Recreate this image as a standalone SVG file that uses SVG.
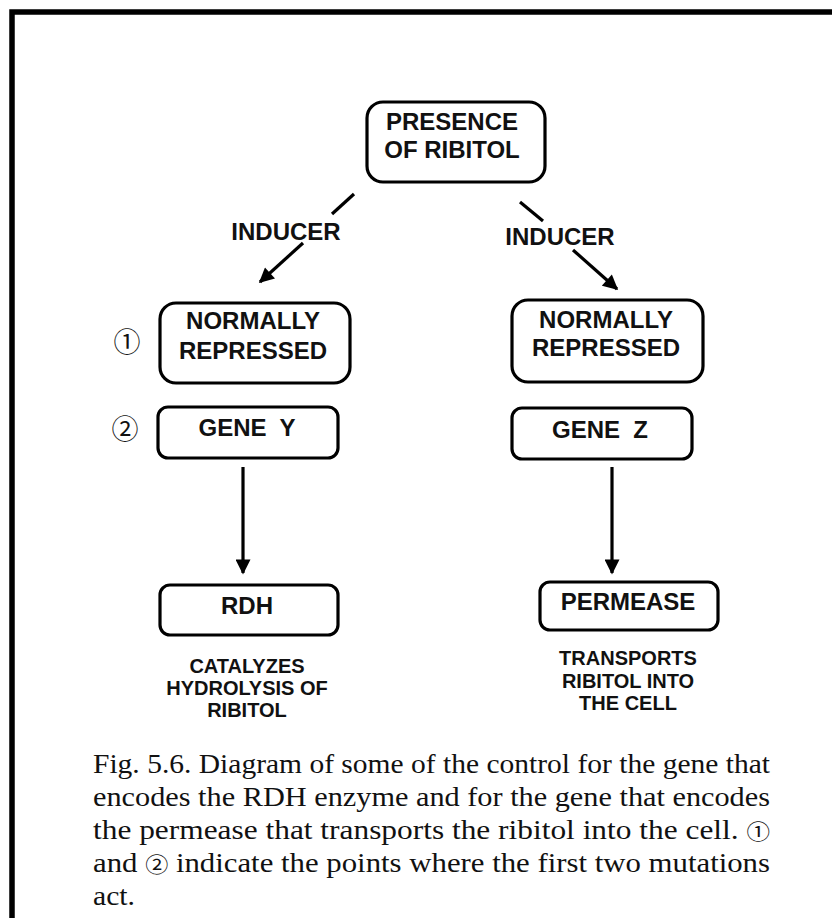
<svg xmlns="http://www.w3.org/2000/svg" width="832" height="918" viewBox="0 0 832 918">
<defs>
<marker id="ah" viewBox="0 0 10 10" refX="9" refY="5" markerUnits="userSpaceOnUse" markerWidth="16" markerHeight="15" orient="auto">
<path d="M0,0 L10,5 L0,10 z" fill="#000"/>
</marker>
<style>
.box{fill:none;stroke:#000;stroke-width:3.2}
.t{font-family:"Liberation Sans",Arial,sans-serif;font-weight:bold;font-size:24px;fill:#111;text-anchor:middle}
.s{font-family:"Liberation Sans",Arial,sans-serif;font-weight:bold;font-size:20px;fill:#111;text-anchor:middle}
.num{font-family:"Noto Sans CJK JP","DejaVu Sans",sans-serif;font-size:27px;fill:#111;text-anchor:middle}
.cap{font-family:"Liberation Serif","Times New Roman",serif;font-size:28px;fill:#111}
.cn{font-family:"Noto Sans CJK JP","DejaVu Sans",sans-serif;font-size:21px}
.ln{stroke:#000;stroke-width:3.2;fill:none}
</style>
</defs>
<rect width="832" height="918" fill="#fff"/>
<path d="M12,918 L12,12 L832,12" fill="none" stroke="#000" stroke-width="5.5"/>

<g id="connectors">
<line class="ln" x1="354" y1="194" x2="332" y2="214"/>
<line class="ln" x1="303" y1="243" x2="260" y2="282" marker-end="url(#ah)"/>
<line class="ln" x1="520" y1="202" x2="543" y2="221"/>
<line class="ln" x1="573" y1="250" x2="617" y2="289" marker-end="url(#ah)"/>
<line class="ln" x1="243" y1="467" x2="243" y2="573" marker-end="url(#ah)"/>
<line class="ln" x1="612" y1="467" x2="612" y2="573" marker-end="url(#ah)"/>
<text class="t" x="286" y="240">INDUCER</text>
<text class="t" x="560" y="245">INDUCER</text>
</g>

<g id="presence">
<rect class="box" x="367" y="102" width="178" height="80" rx="16"/>
<text class="t" x="452" y="130">PRESENCE</text>
<text class="t" x="452" y="158">OF RIBITOL</text>
</g>

<g id="repressed-left">
<text class="num" x="127" y="352">①</text>
<rect class="box" x="160" y="303" width="190" height="80" rx="16"/>
<text class="t" x="253" y="329">NORMALLY</text>
<text class="t" x="253" y="359">REPRESSED</text>
</g>

<g id="repressed-right">
<rect class="box" x="512" y="300" width="191" height="82" rx="16"/>
<text class="t" x="606" y="328">NORMALLY</text>
<text class="t" x="606" y="356">REPRESSED</text>
</g>

<g id="gene-y">
<text class="num" x="125" y="439">②</text>
<rect class="box" x="158" y="407" width="180" height="51" rx="10"/>
<text class="t" x="247" y="436" xml:space="preserve">GENE  Y</text>
</g>

<g id="gene-z">
<rect class="box" x="512" y="408" width="180" height="51" rx="10"/>
<text class="t" x="600" y="438" xml:space="preserve">GENE  Z</text>
</g>

<g id="rdh">
<rect class="box" x="160" y="585" width="178" height="50" rx="10"/>
<text class="t" x="247" y="614">RDH</text>
<text class="s" x="247" y="673">CATALYZES</text>
<text class="s" x="247" y="695">HYDROLYSIS OF</text>
<text class="s" x="247" y="717">RIBITOL</text>
</g>

<g id="permease">
<rect class="box" x="540" y="582" width="178" height="48" rx="10"/>
<text class="t" x="628" y="610">PERMEASE</text>
<text class="s" x="628" y="665">TRANSPORTS</text>
<text class="s" x="628" y="688">RIBITOL INTO</text>
<text class="s" x="628" y="710">THE CELL</text>
</g>

<g id="caption">
<text class="cap" x="93" y="773" textLength="677" lengthAdjust="spacingAndGlyphs">Fig. 5.6. Diagram of some of the control for the gene that</text>
<text class="cap" x="93" y="806" textLength="677" lengthAdjust="spacingAndGlyphs">encodes the RDH enzyme and for the gene that encodes</text>
<text class="cap" x="93" y="839" textLength="677" lengthAdjust="spacingAndGlyphs">the permease that transports the ribitol into the cell. <tspan class="cn">①</tspan></text>
<text class="cap" x="93" y="872" textLength="677" lengthAdjust="spacingAndGlyphs">and <tspan class="cn">②</tspan> indicate the points where the first two mutations</text>
<text class="cap" x="93" y="905" textLength="42" lengthAdjust="spacingAndGlyphs">act.</text>
</g>
</svg>
